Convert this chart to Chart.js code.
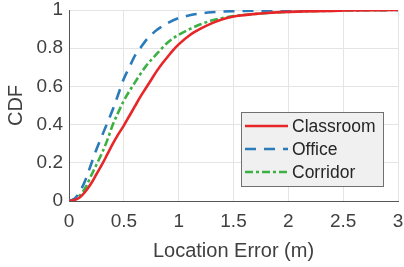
<!DOCTYPE html>
<html><head><meta charset="utf-8">
<script src="https://cdn.jsdelivr.net/npm/chart.js@4.4.1/dist/chart.umd.min.js"></script>
<style>html,body{margin:0;padding:0;background:#fff}#wrap{width:404px;height:267px}</style>
</head><body><div id="wrap"><canvas id="c" width="404" height="267"></canvas></div>
<script>
const seriesNames = ["Classroom", "Office", "Corridor"];
const classroomX = [0,0.05,0.1,0.15,0.2,0.25,0.3,0.35,0.4,0.45,0.5,0.55,0.6,0.65,0.7,0.75,0.8,0.85,0.9,0.95,1.0,1.1,1.2,1.3,1.4,1.5,1.75,2,2.5,3];
const classroomY = [0,0.005,0.02,0.05,0.09,0.14,0.19,0.245,0.3,0.35,0.395,0.445,0.495,0.545,0.59,0.635,0.68,0.72,0.755,0.79,0.82,0.868,0.902,0.93,0.952,0.966,0.982,0.99,0.997,1];
const officeX = [0,0.05,0.1,0.15,0.2,0.25,0.3,0.35,0.4,0.45,0.5,0.55,0.6,0.65,0.7,0.75,0.8,0.9,1.0,1.1,1.2,1.3,1.5,2,2.5,3];
const officeY = [0,0.012,0.05,0.11,0.19,0.27,0.34,0.41,0.48,0.56,0.64,0.70,0.76,0.80,0.84,0.87,0.895,0.932,0.958,0.972,0.982,0.988,0.994,0.998,1,1];
const corridorX = [0,0.05,0.1,0.15,0.2,0.25,0.3,0.35,0.4,0.45,0.5,0.6,0.7,0.8,0.9,1.0,1.1,1.2,1.3,1.4,1.5,1.75,2,2.5,3];
const corridorY = [0,0.01,0.03,0.07,0.13,0.19,0.25,0.32,0.4,0.465,0.525,0.62,0.705,0.77,0.83,0.87,0.9,0.925,0.945,0.958,0.968,0.982,0.99,0.997,1];
const xTicks = [0,0.5,1,1.5,2,2.5,3];
const yTicks = [0,0.2,0.4,0.6,0.8,1];
const xTitle = "Location Error (m)";
const yTitle = "CDF";

const colors = ["#e8262a", "#2b7bbb", "#3cb043"];
const dashes = [[], [11,8], [8,3,3,3]];
const toPts = (xs, ys) => xs.map((x, i) => ({x, y: ys[i]}));
const seriesData = [toPts(classroomX, classroomY), toPts(officeX, officeY), toPts(corridorX, corridorY)];

const FONT = "'Liberation Sans', Arial, sans-serif";

const legendPlugin = {
  id: 'boxLegend',
  afterDatasetsDraw(chart) {
    const ctx = chart.ctx;
    const ca = chart.chartArea;
    const bx = ca.left + 172, by = ca.top + 102, bw = 143, bh = 75;
    ctx.save();
    ctx.fillStyle = '#eff0ef';
    ctx.fillRect(bx, by, bw, bh);
    ctx.strokeStyle = '#707070';
    ctx.lineWidth = 1;
    ctx.strokeRect(bx + 0.5, by + 0.5, bw - 1, bh - 1);
    chart.data.datasets.forEach((ds, i) => {
      const ly = by + 14 + i * 23;
      ctx.beginPath();
      ctx.strokeStyle = ds.borderColor;
      ctx.lineWidth = ds.borderWidth;
      ctx.setLineDash(ds.borderDash || []);
      ctx.moveTo(bx + 4, ly);
      ctx.lineTo(bx + 47, ly);
      ctx.stroke();
      ctx.setLineDash([]);
      ctx.fillStyle = '#262626';
      ctx.font = "17.5px " + FONT;
      ctx.textBaseline = 'middle';
      ctx.textAlign = 'left';
      ctx.fillText(ds.label, bx + 51, ly + 1);
    });
    ctx.restore();
  }
};

function zeroPad(s) { s.paddingLeft = 0; s.paddingRight = 0; s.paddingTop = 0; s.paddingBottom = 0; }

new Chart(document.getElementById('c'), {
  type: 'line',
  data: {
    datasets: seriesNames.map((n, i) => ({
      label: n,
      data: seriesData[i],
      borderColor: colors[i],
      backgroundColor: colors[i],
      borderWidth: 2.6,
      borderDash: dashes[i],
      pointRadius: 0,
      cubicInterpolationMode: 'monotone',
      fill: false
    }))
  },
  options: {
    responsive: false,
    animation: false,
    devicePixelRatio: 1,
    layout: { padding: { top: 10, right: 6, left: 0, bottom: 0 } },
    plugins: { legend: { display: false }, tooltip: { enabled: false } },
    scales: {
      x: {
        type: 'linear', min: 0, max: 3,
        afterFit(s) { s.height = 66; zeroPad(s); },
        afterBuildTicks(s) { s.ticks = xTicks.map(v => ({value: v})); },
        ticks: { color: '#404040', font: { family: FONT, size: 19 }, padding: 9, maxRotation: 0,
                 callback: v => String(v) },
        grid: { color: '#e4e4e4', lineWidth: 1, tickLength: 0 },
        border: { color: '#555555', width: 1 },
        title: { display: true, text: xTitle, color: '#404040', font: { family: FONT, size: 20 }, padding: 4 }
      },
      y: {
        type: 'linear', min: 0, max: 1,
        afterFit(s) { s.width = 69; zeroPad(s); },
        afterBuildTicks(s) { s.ticks = yTicks.map(v => ({value: v})); },
        ticks: { color: '#404040', font: { family: FONT, size: 19 }, padding: 6,
                 callback: v => String(v) },
        grid: { color: '#e4e4e4', lineWidth: 1, tickLength: 0 },
        border: { color: '#555555', width: 1 },
        title: { display: true, text: yTitle, color: '#404040', font: { family: FONT, size: 20 }, padding: 4 }
      }
    }
  },
  plugins: [legendPlugin]
});
</script>
</body></html>
